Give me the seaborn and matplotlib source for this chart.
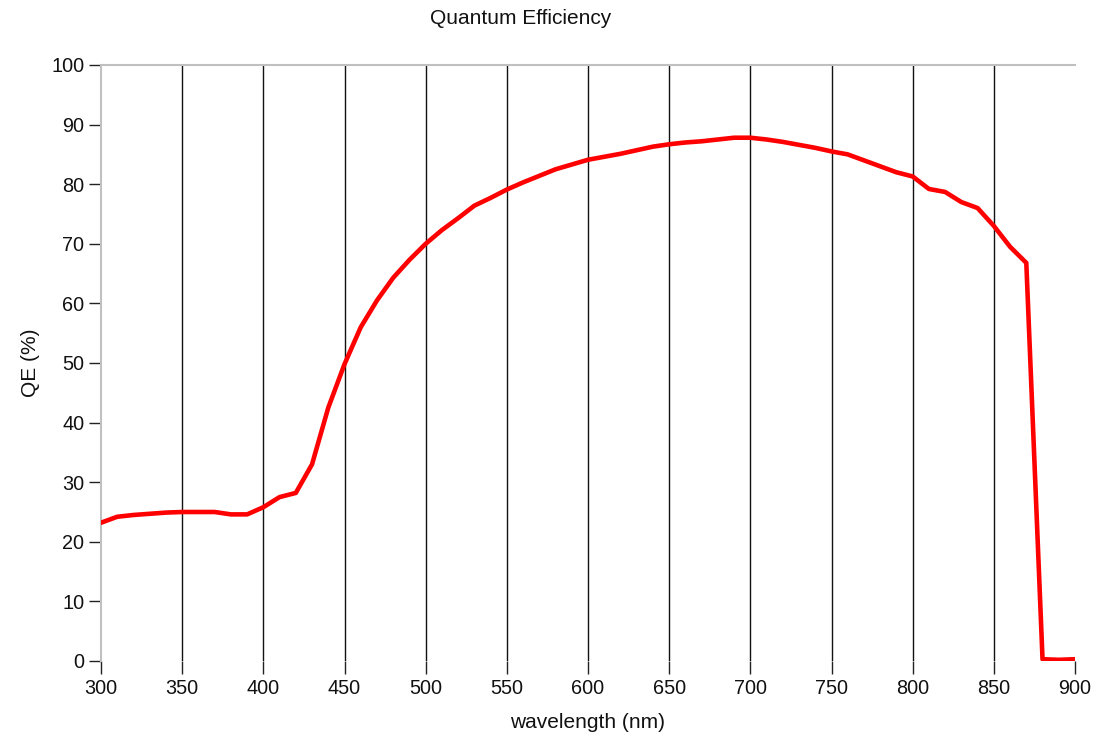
import matplotlib
matplotlib.use("Agg")
import matplotlib.pyplot as plt
import seaborn as sns
import pandas as pd

wavelength_nm = [300, 310, 320, 330, 340, 350, 360, 370, 380, 390,
                 400, 410, 420, 430, 440, 450, 460, 470, 480, 490,
                 500, 510, 520, 530, 540, 550, 560, 570, 580, 590,
                 600, 610, 620, 630, 640, 650, 660, 670, 680, 690,
                 700, 710, 720, 730, 740, 750, 760, 770, 780, 790,
                 800, 810, 820, 830, 840, 850, 860, 870, 880, 890, 900]
qe_percent = [23.2, 24.2, 24.5, 24.7, 24.9, 25.0, 25.0, 25.0, 24.6, 24.6,
              25.8, 27.5, 28.2, 33.0, 42.5, 49.8, 56.0, 60.5, 64.3, 67.3,
              70.0, 72.3, 74.3, 76.4, 77.7, 79.1, 80.3, 81.4, 82.5, 83.3,
              84.1, 84.6, 85.1, 85.7, 86.3, 86.7, 87.0, 87.2, 87.5, 87.8,
              87.8, 87.5, 87.1, 86.6, 86.1, 85.5, 85.0, 84.0, 83.0, 82.0,
              81.3, 79.2, 78.7, 77.0, 76.0, 73.0, 69.5, 66.8, 0.3, 0.2, 0.3]
x_ticks = list(range(300, 901, 50))
y_ticks = list(range(0, 101, 10))

title_text = "Quantum Efficiency"
x_label = "wavelength (nm)"
y_label = "QE (%)"

df = pd.DataFrame({"wavelength": wavelength_nm, "qe": qe_percent})

sns.set_theme(style="white")
plt.rcParams["font.family"] = ["Liberation Sans", "DejaVu Sans"]

W, H = 1097, 740
fig = plt.figure(figsize=(W / 100, H / 100), dpi=100)
ax = fig.add_axes([101 / W, 1 - 661 / H, (1075 - 101) / W, (661 - 65) / H])

sns.lineplot(data=df, x="wavelength", y="qe", ax=ax, color="#ff0000",
             linewidth=3.3, zorder=3)

ax.set_xlim(300, 900)
ax.set_ylim(0, 100)
ax.set_xticks(x_ticks)
ax.set_yticks(y_ticks)

ax.grid(True, axis="x", color="#111111", linewidth=1.0)
ax.grid(False, axis="y")
xgl = ax.get_xgridlines()
xgl[0].set_visible(False)
xgl[-1].set_visible(False)

for side in ["right", "bottom"]:
    ax.spines[side].set_visible(False)
for side in ["top", "left"]:
    ax.spines[side].set_visible(True)
    ax.spines[side].set_color("#c0c0c0")
    ax.spines[side].set_linewidth(1.5)

ax.tick_params(axis="y", which="major", left=True, direction="out", length=9,
               width=1.0, color="#222222", pad=3, labelsize=14.3, labelcolor="#111111")
ax.tick_params(axis="x", which="major", bottom=True, direction="out", length=9,
               width=1.0, color="#222222", pad=4, labelsize=14.3, labelcolor="#111111")

ax.set_xlabel(x_label, fontsize=15, color="#111111")
ax.set_ylabel(y_label, fontsize=15, color="#111111")
# place axis labels (axes-fraction coords computed from pixel positions)
ax_x0, ax_x1, ax_y0, ax_y1 = 101, 1075, 661, 65
ax.xaxis.set_label_coords((588 - ax_x0) / (ax_x1 - ax_x0), -(722 - ax_y0) / (ax_y0 - ax_y1))
ax.xaxis.label.set_verticalalignment("center")
ax.yaxis.set_label_coords(-(ax_x0 - 31) / (ax_x1 - ax_x0), (ax_y0 - 363) / (ax_y0 - ax_y1))
ax.yaxis.label.set_verticalalignment("center")

fig.text(521 / W, 1 - 19 / H, title_text, ha="center", va="center",
         fontsize=15, color="#111111")

fig.savefig("out.png", dpi=100, facecolor="white")
